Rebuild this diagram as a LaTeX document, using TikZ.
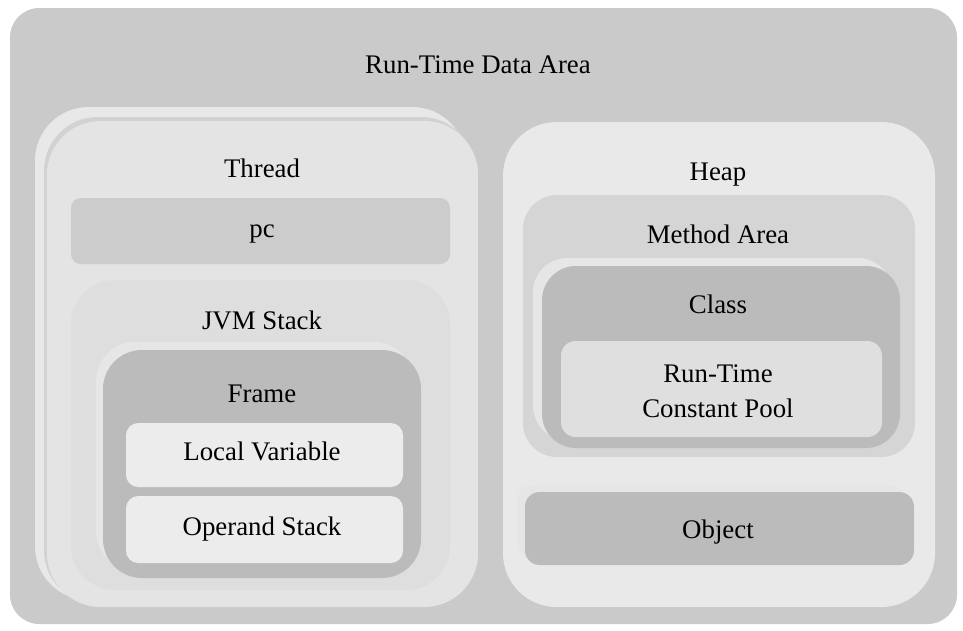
\documentclass[tikz,border=0pt]{standalone}
\usepackage{fontspec}
\setmainfont{Liberation Serif}
\usepackage{xcolor}
\usepackage{tikz}
\usetikzlibrary{positioning}
\definecolor{areagray}{HTML}{CACACA}
\definecolor{cardgray}{HTML}{E4E4E4}
\definecolor{backgray}{HTML}{E8E8E8}
\definecolor{edgegray}{HTML}{D2D2D2}
\definecolor{midgray}{HTML}{CCCCCC}
\definecolor{stackgray}{HTML}{DEDEDE}
\definecolor{halogray}{HTML}{E6E6E6}
\definecolor{darkgray}{HTML}{BBBBBB}
\definecolor{palegray}{HTML}{ECECEC}
\definecolor{heapgray}{HTML}{E9E9E9}
\definecolor{methodgray}{HTML}{D5D5D5}
\definecolor{poolgray}{HTML}{DFDFDF}
\tikzset{
  rtdabox/.style={fill=areagray,rounded corners=12pt},
  threadback/.style={fill=backgray,rounded corners=22pt},
  threadedge/.style={fill=edgegray,rounded corners=22pt},
  threadfront/.style={fill=cardgray,rounded corners=22pt},
  pcbox/.style={fill=midgray,rounded corners=4pt},
  stackbox/.style={fill=stackgray,rounded corners=18pt},
  halobox/.style={fill=halogray,rounded corners=#1},
  darkbox/.style={fill=darkgray,rounded corners=#1},
  lightbox/.style={fill=palegray,rounded corners=5pt},
  heapbox/.style={fill=heapgray,rounded corners=22pt},
  methodbox/.style={fill=methodgray,rounded corners=14pt},
  poolbox/.style={fill=poolgray,rounded corners=6pt},
  label/.style={anchor=base,inner sep=0pt,font=\fontsize{11}{14.4}\selectfont}
}

\begin{document}
\begin{tikzpicture}[x=0.41pt,y=-0.41pt]
\useasboundingbox (0,0) rectangle (963,630);
% run-time data area
\fill[rtdabox] (10,8) rectangle (957,624);
\node[label] (rtda) at (478,73) {Run-Time Data Area};
% thread (two stacked cards)
\fill[threadback] (35,107) rectangle (466,600);
\fill[threadedge] (44,117) rectangle (475,604);
\fill[threadfront] (47,121) rectangle (478,607);
\node[label] (thread) at (262,177) {Thread};
\fill[pcbox] (71,198) rectangle (450,264);
\node[label] (pc) at (262,237) {pc};
\fill[stackbox] (71,280) rectangle (450,590);
\node[label] (jvmstack) at (262,329) {JVM Stack};
\fill[halobox=16pt] (96,342) rectangle (413,570);
\fill[darkbox=16pt] (103,350) rectangle (421,578);
\node[label] (frame) at (262,402) {Frame};
\fill[lightbox] (126,423) rectangle (403,487);
\node[label] (localvar) at (262,460) {Local Variable};
\fill[lightbox] (126,496) rectangle (403,563);
\node[label] (operand) at (262,535) {Operand Stack};
% heap
\fill[heapbox] (503,122) rectangle (935,607);
\node[label] (heap) at (718,180) {Heap};
\fill[methodbox] (523,195) rectangle (915,457);
\node[label] (method) at (718,243) {Method Area};
\fill[halobox=14pt] (533,258) rectangle (892,440);
\fill[darkbox=14pt] (542,266) rectangle (900,448);
\node[label] (class) at (718,313) {Class};
\fill[poolbox] (561,341) rectangle (882,437);
\node[label,anchor=center,align=center] (pool) at (718,391) {Run-Time\\Constant Pool};
\fill[halobox=6pt] (517,485) rectangle (905,556);
\fill[darkbox=6pt] (525,492) rectangle (914,565);
\node[label] (object) at (718,538) {Object};
\end{tikzpicture}
\end{document}
